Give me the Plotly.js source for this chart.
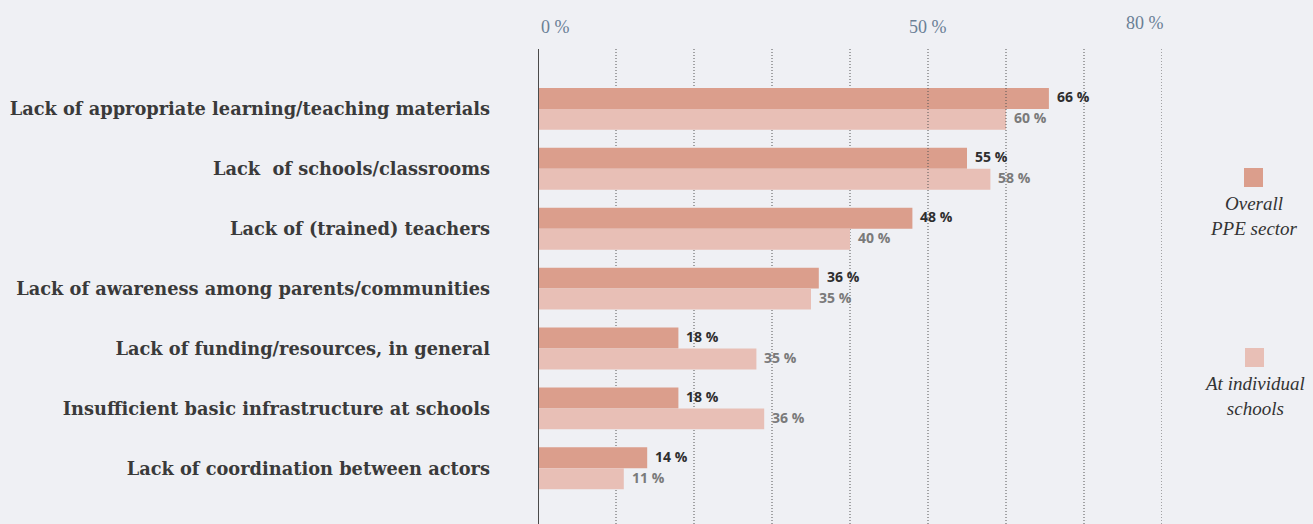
<!DOCTYPE html>
<html>
<head>
<meta charset="utf-8">
<script src="https://cdn.plot.ly/plotly-3.0.1.min.js"></script>
<style>
html,body{margin:0;padding:0;background:#eff0f4;}
#chart{width:1313px;height:524px;}
</style>
</head>
<body>
<div id="chart"></div>
<script>
// ---- data ----
var categories = [
  "Lack of appropriate learning/teaching materials",
  "Lack\u00a0 of schools/classrooms",
  "Lack of (trained) teachers",
  "Lack of awareness among parents/communities",
  "Lack of funding/resources, in general",
  "Insufficient basic infrastructure at schools",
  "Lack of coordination between actors"
];
var overallValues = [65.5, 55, 48, 36, 18, 18, 14];
var overallLabels = ["66 %", "55 %", "48 %", "36 %", "18 %", "18 %", "14 %"];
var schoolValues = [60, 58, 40, 35, 28, 29, 11];
var schoolLabels = ["60 %", "58 %", "40 %", "35 %", "35 %", "36 %", "11 %"];
var seriesNames = ["Overall<br>PPE sector", "At individual<br>schools"];
var gridValues = [10, 20, 30, 40, 50, 60, 70, 80];
var tickValues = [0, 50, 80];
var tickLabels = ["0 %", "50 %", "80 %"];

// ---- layout helpers ----
var W = 1313, H = 524;
var M = {l: 538, r: 151, t: 49, b: 0};
var PW = W - M.l - M.r, PH = H - M.t - M.b;
function px(x) { return (x - M.l) / PW; }
function py(y) { return (H - M.b - y) / PH; }

var darkColor = "#db9e8c";
var lightColor = "#e8bfb6";

var traces = [
  {type: "bar", orientation: "h", name: "Overall PPE sector", y: categories, x: overallValues,
   marker: {color: darkColor}, hoverinfo: "none"},
  {type: "bar", orientation: "h", name: "At individual schools", y: categories, x: schoolValues,
   marker: {color: lightColor}, hoverinfo: "none"}
];

var shapes = [];
gridValues.forEach(function (v) {
  shapes.push({type: "line", xref: "x", yref: "paper", x0: v, x1: v, y0: 0, y1: 1,
    line: {color: "#555555", width: 1, dash: "1px,2px"}, layer: v >= 50 ? "above" : "below"});
});
shapes.push({type: "line", xref: "x", yref: "paper", x0: 0, x1: 0, y0: 0, y1: 1,
  line: {color: "#4a4a4a", width: 2}, layer: "above"});
// legend squares
shapes.push({type: "rect", xref: "paper", yref: "paper", x0: px(1244), x1: px(1263), y0: py(187), y1: py(168),
  fillcolor: darkColor, line: {width: 0}});
shapes.push({type: "rect", xref: "paper", yref: "paper", x0: px(1245), x1: px(1264), y0: py(367), y1: py(348),
  fillcolor: lightColor, line: {width: 0}});

var annotations = [];
var valFamily = "'Open Sans', Lato, sans-serif";
categories.forEach(function (c, i) {
  annotations.push({x: overallValues[i], y: c, xref: "x", yref: "y", text: overallLabels[i],
    showarrow: false, xanchor: "left", yanchor: "middle", xshift: 6, yshift: 12,
    font: {family: valFamily, size: 14, color: "#2e2e2e", weight: 700}});
  annotations.push({x: schoolValues[i], y: c, xref: "x", yref: "y", text: schoolLabels[i],
    showarrow: false, xanchor: "left", yanchor: "middle", xshift: 6, yshift: -9,
    font: {family: valFamily, size: 14, color: "#7a7a7a", weight: 700}});
});
// top tick labels
var tickAnchors = ["left", "center", "right"];
var tickShift = [1, 0, 4];
var tickY = [27, 27, 23];
tickValues.forEach(function (v, i) {
  annotations.push({x: v, xref: "x", yref: "paper", y: py(tickY[i]), text: tickLabels[i],
    showarrow: false, xanchor: tickAnchors[i], yanchor: "middle", xshift: tickShift[i],
    font: {family: "'Liberation Serif', serif", size: 18, color: "#6a7f96"}});
});
// legend labels
var legFont = {family: "'Liberation Serif', serif", size: 19, color: "#333", style: "italic"};
annotations.push({xref: "paper", yref: "paper", x: px(1254), y: py(191), text: seriesNames[0],
  showarrow: false, xanchor: "center", yanchor: "top", align: "center", font: legFont});
annotations.push({xref: "paper", yref: "paper", x: px(1254), y: py(371), text: seriesNames[1],
  showarrow: false, xanchor: "center", yanchor: "top", align: "center", font: legFont});

var layout = {
  width: W, height: H,
  margin: M,
  paper_bgcolor: "#eff0f4",
  plot_bgcolor: "#eff0f4",
  barmode: "group",
  bargap: 0.3,
  bargroupgap: 0,
  showlegend: false,
  xaxis: {range: [0, 80], showgrid: false, zeroline: false, showticklabels: false,
    showline: false, fixedrange: true},
  yaxis: {type: "category", categoryorder: "array", categoryarray: categories,
    range: [6.93, -1.0], showgrid: false, zeroline: false, showline: false,
    ticks: "", ticklabelstandoff: 47,
    tickfont: {family: "'DejaVu Serif', serif", size: 17.8, color: "#3a3a3a", weight: 700},
    fixedrange: true},
  shapes: shapes,
  annotations: annotations
};

Plotly.newPlot("chart", traces, layout, {displayModeBar: false, staticPlot: true});
</script>
</body>
</html>
